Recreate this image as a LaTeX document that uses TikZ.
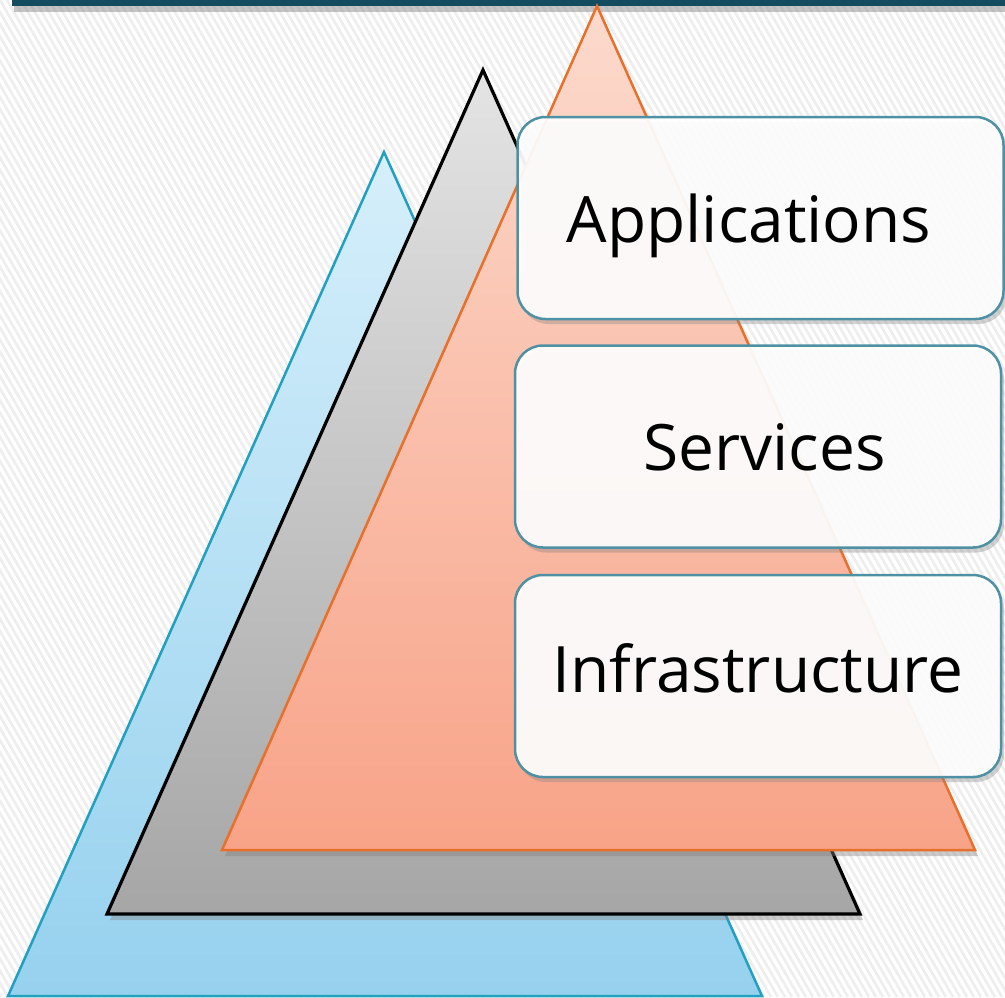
\documentclass[tikz,border=0pt]{standalone}
\usepackage{fontspec}
\setmainfont{Open Sans}
\usetikzlibrary{shadows}
\definecolor{barteal}{HTML}{124C5E}
\definecolor{blueTop}{HTML}{D6EFFB}
\definecolor{blueBot}{HTML}{96D1EE}
\definecolor{blueEdge}{HTML}{22A0C2}
\definecolor{grayTop}{HTML}{E4E4E4}
\definecolor{grayBot}{HTML}{A6A6A6}
\definecolor{orTop}{HTML}{FCDACD}
\definecolor{orBot}{HTML}{F8A388}
\definecolor{orEdge}{HTML}{E8702A}
\definecolor{boxEdge}{HTML}{4F91A4}
\definecolor{stripe}{HTML}{EEEEEE}
\tikzset{
  layerbox/.style={draw=boxEdge, line width=2.5pt, rounded corners=28pt,
    fill=white, fill opacity=0.92,
    minimum width=486pt, minimum height=202pt, inner sep=0pt,
    drop shadow={opacity=0.35, shadow xshift=3pt, shadow yshift=-5pt}},
  layertext/.style={anchor=base, inner sep=0pt, text=black,
    font=\fontsize{64}{76}\selectfont},
  tri/.style={line width=2.5pt, line join=miter},
}
\begin{document}
\begin{tikzpicture}[x=1pt,y=-1pt]
\useasboundingbox (0,0) rectangle (1005,997);
% background
\fill[white] (0,0) rectangle (1005,997);
\begin{scope}
\clip (0,0) rectangle (1005,997);
\foreach \i in {-85,...,145} {
  \draw[stripe, line width=2.6pt] (\i*7,0) -- ++(575,997);
}
\end{scope}
% top bar with shadow
\fill[barteal, drop shadow={opacity=0.45, shadow xshift=2pt, shadow yshift=-6pt}] (12,-10) rectangle (1005,6);
% blue triangle
\path[tri, draw=blueEdge, top color=blueTop, bottom color=blueBot]
  (384,152) -- (762,996) -- (8,996) -- cycle;
% gray triangle
\path[tri, line width=3.2pt, draw=black, top color=grayTop, bottom color=grayBot,
  drop shadow={opacity=0.4, shadow xshift=3pt, shadow yshift=-6pt}]
  (483,70) -- (860,914) -- (107,914) -- cycle;
% orange triangle
\path[tri, draw=orEdge, top color=orTop, bottom color=orBot,
  drop shadow={opacity=0.4, shadow xshift=3pt, shadow yshift=-6pt}]
  (597,6) -- (975,850) -- (222,850) -- cycle;
% boxes
\node[layerbox] (app) at (760.5,218) {};
\node[layerbox] (srv) at (758,446.5) {};
\node[layerbox] (inf) at (758,676) {};
% labels
\node[layertext] (appT) at (749,242) {Applications};
\node[layertext] (srvT) at (764.5,470) {Services};
\node[layertext] (infT) at (758,692) {Infrastructure};
\end{tikzpicture}
\end{document}
